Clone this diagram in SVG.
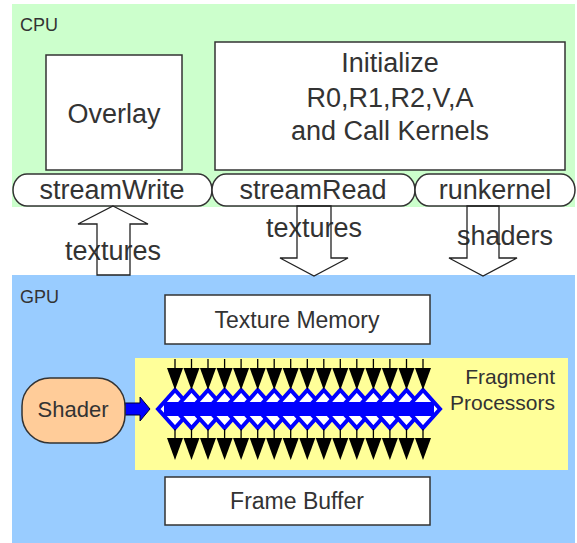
<svg xmlns="http://www.w3.org/2000/svg" width="577" height="543" viewBox="0 0 577 543">
<style>
text{font-family:"Liberation Sans",Arial,sans-serif;fill:#333;}
.box{fill:#fff;stroke:#333;stroke-width:1.5;}
.lbl{font-size:27px;text-anchor:middle;}
.blk{fill:none;stroke:#222;stroke-width:1.3;}
.dia{fill:#fff;stroke:#0000ff;stroke-width:4;stroke-linejoin:miter;}
.arr{fill:#000;}
.ln{stroke:#000;stroke-width:1.3;}
</style>
<defs>
<g id="dnarrow"><line class="ln" x1="0" y1="0" x2="0" y2="10"/><polygon class="arr" points="-8,9 8,9 0,31"/></g>
</defs>
<rect x="12" y="4" width="563" height="203" fill="#ccffcc"/>
<rect x="12" y="275" width="563" height="268" fill="#99ccff"/>
<rect x="135" y="358" width="433" height="112" fill="#ffff99"/>
<text x="20" y="31" style="font-size:18px">CPU</text>
<text x="20" y="303" style="font-size:18px">GPU</text>
<g id="overlay"><rect class="box" x="46" y="55" width="136" height="115"/><text class="lbl" x="114" y="123">Overlay</text></g>
<g id="initialize"><rect class="box" x="215" y="42" width="350" height="128"/>
<text class="lbl" x="390" y="72">Initialize</text><text class="lbl" x="390" y="107">R0,R1,R2,V,A</text><text class="lbl" x="390" y="140">and Call Kernels</text></g>
<g id="streamWrite"><rect class="box" x="13" y="174" width="199" height="32" rx="14" ry="16"/><text class="lbl" x="112" y="199">streamWrite</text></g>
<g id="streamRead"><rect class="box" x="212" y="174" width="203" height="32" rx="14" ry="16"/><text class="lbl" x="313" y="199">streamRead</text></g>
<g id="runkernel"><rect class="box" x="415" y="174" width="160" height="32" rx="14" ry="16"/><text class="lbl" x="495" y="199">runkernel</text></g>
<g id="connectors">
<text class="lbl" x="113" y="260">textures</text>
<text class="lbl" x="314" y="237">textures</text>
<text class="lbl" x="505" y="245">shaders</text>
<polygon class="blk" points="113,206 148,224 130,224 130,275 97,275 97,224 78,224"/>
<polygon class="blk" points="297,206 331,206 331,258 348,258 314,276 280,258 297,258"/>
<polygon class="blk" points="467,206 499,206 499,258 517,258 483,276 449,258 467,258"/>
<polygon points="125,403 140,403 140,397 150,409 140,421 140,415 125,415" fill="#0000ff" stroke="#000033" stroke-width="1"/>
</g>
<g id="textureMemory"><rect class="box" x="165" y="295" width="265" height="49"/><text x="297" y="328" style="font-size:23px;text-anchor:middle">Texture Memory</text></g>
<g id="frameBuffer"><rect class="box" x="165" y="477" width="265" height="48"/><text x="297" y="509" style="font-size:23px;text-anchor:middle">Frame Buffer</text></g>
<g id="shader"><rect x="22" y="378" width="103" height="65" rx="28" fill="#ffcc99" stroke="#333" stroke-width="1.5"/><text x="73" y="417" style="font-size:22px;text-anchor:middle">Shader</text></g>
<g id="fragmentProcessors">
<text x="555" y="384" style="font-size:21px;text-anchor:end">Fragment</text>
<text x="555" y="410" style="font-size:21px;text-anchor:end">Processors</text>
<g id="diamonds">
<polygon class="dia" points="158,409 175,390 192,409 175,428"/>
<polygon class="dia" points="174.5,409 191.5,390 208.5,409 191.5,428"/>
<polygon class="dia" points="191,409 208,390 225,409 208,428"/>
<polygon class="dia" points="207.6,409 224.6,390 241.6,409 224.6,428"/>
<polygon class="dia" points="224.1,409 241.1,390 258.1,409 241.1,428"/>
<polygon class="dia" points="240.7,409 257.7,390 274.7,409 257.7,428"/>
<polygon class="dia" points="257.2,409 274.2,390 291.2,409 274.2,428"/>
<polygon class="dia" points="273.7,409 290.7,390 307.7,409 290.7,428"/>
<polygon class="dia" points="290.3,409 307.3,390 324.3,409 307.3,428"/>
<polygon class="dia" points="306.8,409 323.8,390 340.8,409 323.8,428"/>
<polygon class="dia" points="323.3,409 340.3,390 357.3,409 340.3,428"/>
<polygon class="dia" points="339.8,409 356.8,390 373.8,409 356.8,428"/>
<polygon class="dia" points="356.4,409 373.4,390 390.4,409 373.4,428"/>
<polygon class="dia" points="372.9,409 389.9,390 406.9,409 389.9,428"/>
<polygon class="dia" points="389.5,409 406.5,390 423.5,409 406.5,428"/>
<polygon class="dia" points="406,409 423,390 440,409 423,428"/>
<rect x="164" y="402" width="270" height="14" fill="#0000ff"/>
</g>
<g id="inArrows">
<use href="#dnarrow" x="175" y="359"/><use href="#dnarrow" x="191.5" y="359"/><use href="#dnarrow" x="208" y="359"/><use href="#dnarrow" x="224.6" y="359"/>
<use href="#dnarrow" x="241.1" y="359"/><use href="#dnarrow" x="257.7" y="359"/><use href="#dnarrow" x="274.2" y="359"/><use href="#dnarrow" x="290.7" y="359"/>
<use href="#dnarrow" x="307.3" y="359"/><use href="#dnarrow" x="323.8" y="359"/><use href="#dnarrow" x="340.3" y="359"/><use href="#dnarrow" x="356.8" y="359"/>
<use href="#dnarrow" x="373.4" y="359"/><use href="#dnarrow" x="389.9" y="359"/><use href="#dnarrow" x="406.5" y="359"/><use href="#dnarrow" x="423" y="359"/>
</g>
<g id="outArrows">
<use href="#dnarrow" x="175" y="429"/><use href="#dnarrow" x="191.5" y="429"/><use href="#dnarrow" x="208" y="429"/><use href="#dnarrow" x="224.6" y="429"/>
<use href="#dnarrow" x="241.1" y="429"/><use href="#dnarrow" x="257.7" y="429"/><use href="#dnarrow" x="274.2" y="429"/><use href="#dnarrow" x="290.7" y="429"/>
<use href="#dnarrow" x="307.3" y="429"/><use href="#dnarrow" x="323.8" y="429"/><use href="#dnarrow" x="340.3" y="429"/><use href="#dnarrow" x="356.8" y="429"/>
<use href="#dnarrow" x="373.4" y="429"/><use href="#dnarrow" x="389.9" y="429"/><use href="#dnarrow" x="406.5" y="429"/><use href="#dnarrow" x="423" y="429"/>
</g>
</g>
</svg>
